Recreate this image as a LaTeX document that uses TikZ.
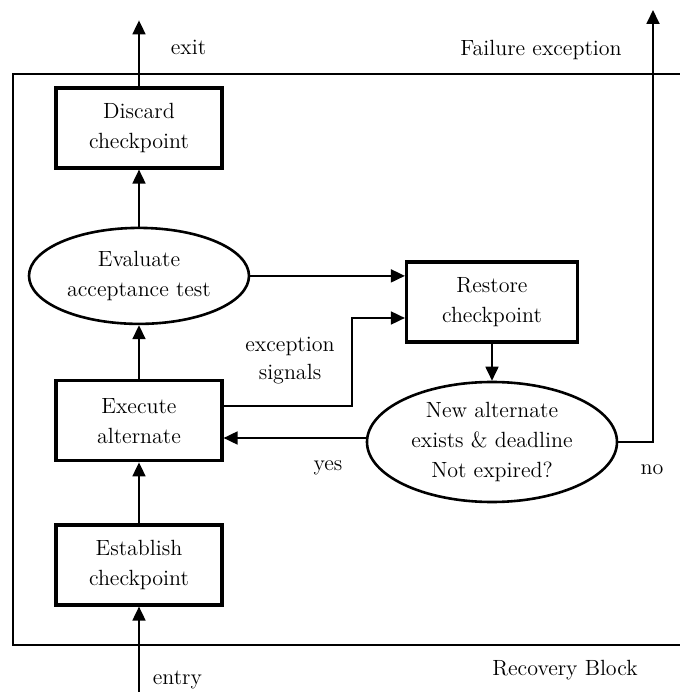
\documentclass[tikz,border=0pt]{standalone}
\usepackage{tikz}
\usetikzlibrary{positioning,shapes.geometric,arrows.meta}

\begin{document}
\begin{tikzpicture}[x=1pt, y=1pt,
    ->,
    >={Triangle[length=7pt,width=6.5pt]},
    line width=0.9pt,
    font=\fontsize{11}{15}\selectfont,
    bb/.style={%
      rectangle, draw=black, line width=1.6pt, fill=white,
      minimum width=83pt, minimum height=40pt, inner sep=2pt, align=center
    },
    ell/.style={%
      ellipse, draw=black, line width=1.3pt, fill=white,
      inner sep=0pt, align=center
    },
    lbl/.style={%
      draw=none, inner sep=1pt, align=center
    },
    frame/.style={-, line width=1pt}
]
    \useasboundingbox (0,0) rectangle (340,346);

    % recovery block frame
    \draw[frame] (340,309) -| (6.5,23.5) -- (340,23.5);

    \node[bb] (1) at (69.5,63.5)          {Establish\\checkpoint};
    \node[bb] (2)  [above = 30.5pt of 1]  {Execute\\alternate};
    \node[ell, minimum width=110pt, minimum height=48pt]
              (3)  [above = 27pt of 2]    {Evaluate\\acceptance test};
    \node[bb] (4)  [above = 28.5pt of 3]  {Discard\\checkpoint};
    \node[bb, minimum width=85.5pt] (5) at (246,195) {Restore\\checkpoint};
    \node[ell, minimum width=125pt, minimum height=60pt]
              (6) at (246,125)            {New alternate\\exists \& deadline\\Not expired?};

    \coordinate (entry) at (69.5,0);
    \coordinate (exit)  at ([yshift=33pt]4.north);
    \coordinate (fail)  at (326.5,341);
    \coordinate (bend)  at (176,187);

    \draw (entry) -- (1);
    \draw (1) -- (2);
    \draw (2) -- (3);
    \draw (3) -- (4);
    \draw (4) -- (exit);
    \draw (3.east) -- (3.east -| 5.west);
    \draw ([yshift=7.5pt]2.east) -| (bend) -- (bend -| 5.west);
    \draw (5) -- (6);
    \draw ([yshift=2pt]6.west) -- ([yshift=2pt]6.west -| 2.east);
    \draw (6.east) -| (fail);

    \node[lbl, anchor=west] (exitlbl) at (84,322.5) {exit};
    \node[lbl, anchor=west] (entrylbl) at (75,6)    {entry};
    \node[lbl] (faillbl) at (270.5,321)  {Failure exception};
    \node[lbl] (rblbl)   at (282.5,11)   {Recovery Block};
    \node[lbl, font=\fontsize{11}{14}\selectfont]
               (exclbl)  at (145,165.5)  {exception\\signals};
    \node[lbl] (yeslbl)  at (164,112)    {yes};
    \node[lbl] (nolbl)   at (326,111)    {no};

\end{tikzpicture}
\end{document}
